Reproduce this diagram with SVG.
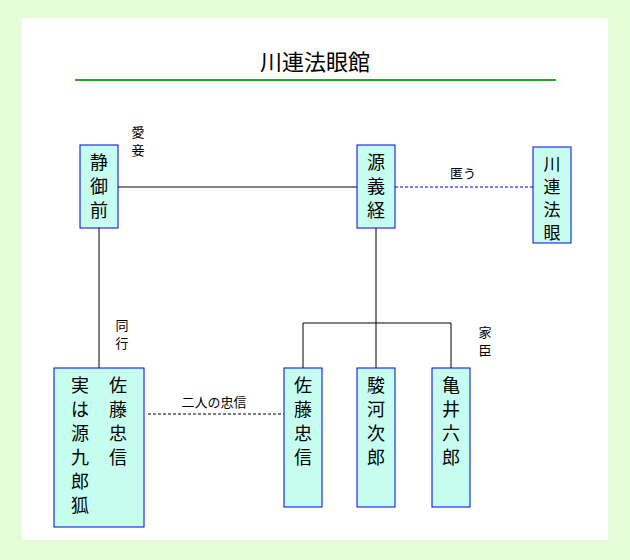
<svg xmlns="http://www.w3.org/2000/svg" width="630" height="560" viewBox="0 0 630 560">
<style>
.n{fill:#c6fff0;stroke:#0000ee;stroke-width:1}
.t{font-family:"Noto Sans CJK JP",sans-serif;font-size:18px;fill:#000;text-anchor:middle}
.h{font-size:17px}
.s{font-family:"Noto Sans CJK JP",sans-serif;font-size:13px;fill:#000;text-anchor:middle}
.l{stroke:#000;stroke-width:1;fill:none}
</style>
<rect width="630" height="560" fill="#e6fcd9"/>
<rect x="22" y="18" width="586" height="522" fill="#fff"/>
<text x="315" y="70" class="t" style="font-size:22px">川連法眼館</text>
<line x1="75" y1="80" x2="556" y2="80" stroke="#22aa22" stroke-width="2"/>
<g id="connectors">
<line class="l" x1="118" y1="187" x2="357" y2="187"/>
<line x1="395" y1="187" x2="533" y2="187" stroke="#0000cc" stroke-dasharray="3,2"/>
<line class="l" x1="99" y1="228" x2="99" y2="368"/>
<line class="l" x1="376" y1="228" x2="376" y2="368"/>
<path class="l" d="M303 368V323H451V368"/>
<line class="l" x1="148" y1="414" x2="284" y2="414" stroke-dasharray="3,2"/>
<text class="s" x="138" y="137">愛</text><text class="s" x="138" y="155">妾</text>
<text class="s" x="463" y="178">匿う</text>
<text class="s" x="122" y="330">同</text><text class="s" x="122" y="348">行</text>
<text class="s" x="485" y="337">家</text><text class="s" x="485" y="355">臣</text>
<text class="s" x="214" y="407">二人の忠信</text>
</g>
<g id="shizuka"><rect class="n" x="80" y="145" width="38" height="83"/>
<text class="t" x="99" y="169">静</text><text class="t" x="99" y="193">御</text><text class="t" x="99" y="217">前</text></g>
<g id="yoshitsune"><rect class="n" x="357" y="145" width="38" height="83"/>
<text class="t" x="376" y="169">源</text><text class="t" x="376" y="193">義</text><text class="t" x="376" y="217">経</text></g>
<g id="hougen"><rect class="n" x="533" y="147" width="38" height="96"/>
<text class="t h" x="552" y="170">川</text><text class="t h" x="552" y="193">連</text><text class="t h" x="552" y="216">法</text><text class="t h" x="552" y="239">眼</text></g>
<g id="kitsune"><rect class="n" x="54" y="368" width="90" height="159"/>
<text class="t" x="118" y="392">佐</text><text class="t" x="118" y="416">藤</text><text class="t" x="118" y="440">忠</text><text class="t" x="118" y="464">信</text>
<text class="t" x="80" y="392">実</text><text class="t" x="80" y="416">は</text><text class="t" x="80" y="440">源</text><text class="t" x="80" y="464">九</text><text class="t" x="80" y="488">郎</text><text class="t" x="80" y="512">狐</text></g>
<g id="tadanobu"><rect class="n" x="284" y="368" width="38" height="139"/>
<text class="t" x="303" y="392">佐</text><text class="t" x="303" y="416">藤</text><text class="t" x="303" y="440">忠</text><text class="t" x="303" y="464">信</text></g>
<g id="suruga"><rect class="n" x="357" y="368" width="38" height="139"/>
<text class="t" x="376" y="392">駿</text><text class="t" x="376" y="416">河</text><text class="t" x="376" y="440">次</text><text class="t" x="376" y="464">郎</text></g>
<g id="kamei"><rect class="n" x="432" y="368" width="38" height="139"/>
<text class="t" x="451" y="392">亀</text><text class="t" x="451" y="416">井</text><text class="t" x="451" y="440">六</text><text class="t" x="451" y="464">郎</text></g>
</svg>
